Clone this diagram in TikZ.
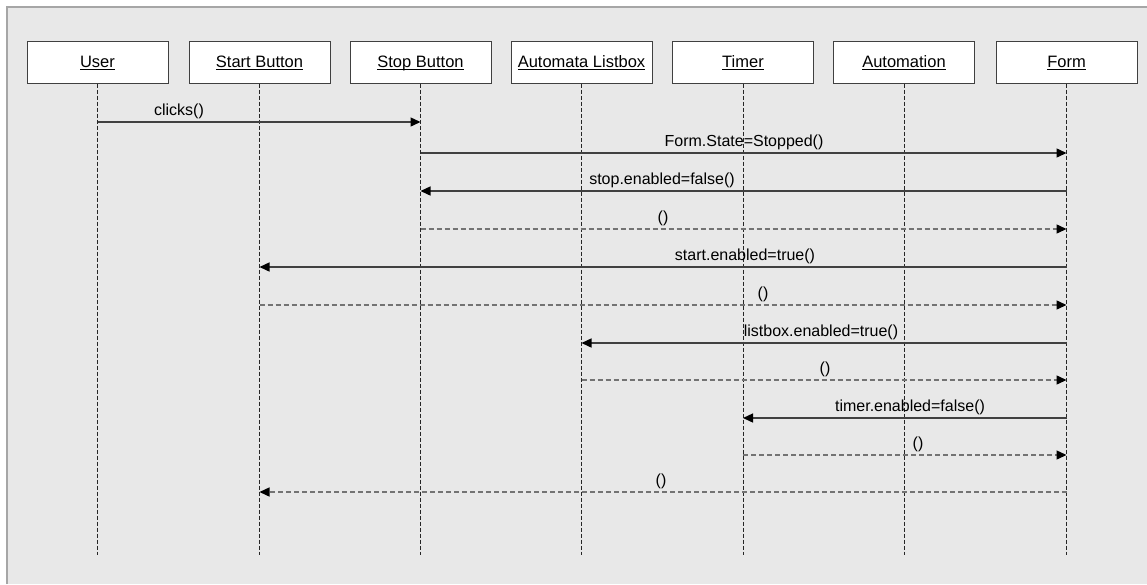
\documentclass[tikz,border=0pt]{standalone}
\usepackage{fontspec}
\setmainfont{Liberation Sans}
\usetikzlibrary{arrows.meta}

\newcommand{\objname}[1]{\underline{\smash{#1}}}

\begin{document}
\begin{tikzpicture}[x=1pt,y=-1pt,>={Triangle[length=10pt,width=9pt,color=black]},
  objbox/.style={draw=black!75,fill=white,line width=1pt,minimum width=141pt,
    minimum height=42pt,inner sep=0pt,text height=11pt,text depth=0pt,
    font=\fontsize{16.5}{18}\selectfont},
  lifeline/.style={draw=black!85,line width=1pt,dash pattern=on 4pt off 2pt},
  call/.style={->,draw=black!75,line width=1.4pt},
  reply/.style={->,draw=black!55,line width=1.4pt,dash pattern=on 5pt off 3pt},
  msglabel/.style={anchor=base,inner sep=0pt,font=\fontsize{16}{18}\selectfont}]

% Rahmen
\useasboundingbox (0,0) rectangle (1147,584);
\fill[black!9] (7,7) rectangle (1147,584);
\draw[black!35,line width=2pt] (7,584)--(7,7)--(1147,7);

% Objekte
\node[objbox] (user) at (97.5,62) {\objname{User}};
\node[objbox] (start) at (259.5,62) {\objname{Start Button}};
\node[objbox] (stop) at (420.5,62) {\objname{Stop Button}};
\node[objbox] (listbox) at (581.5,62) {\objname{Automata Listbox}};
\node[objbox] (timer) at (743,62) {\objname{Timer}};
\node[objbox] (automation) at (904,62) {\objname{Automation}};
\node[objbox] (form) at (1066.5,62) {\objname{Form}};

% Lebenslinien
\coordinate (ende) at (0,555);
\foreach \n in {user,start,stop,listbox,timer,automation,form}
  \draw[lifeline] (\n.south) -- (\n |- ende);

% Nachrichten
\coordinate (m1) at (0,122);
\coordinate (m2) at (0,153);
\coordinate (m3) at (0,191);
\coordinate (m4) at (0,229);
\coordinate (m5) at (0,267);
\coordinate (m6) at (0,305);
\coordinate (m7) at (0,343);
\coordinate (m8) at (0,380);
\coordinate (m9) at (0,418);
\coordinate (m10) at (0,455);
\coordinate (m11) at (0,492);

\draw[call] (user |- m1) -- (stop |- m1);
\node[msglabel] (t1) at (179,115) {clicks()};

\draw[call] (stop |- m2) -- (form |- m2);
\node[msglabel] (t2) at (744,146) {Form.State=Stopped()};

\draw[call] (form |- m3) -- (stop |- m3);
\node[msglabel] (t3) at (662,184) {stop.enabled=false()};

\draw[reply] (stop |- m4) -- (form |- m4);
\node[msglabel] (t4) at (663,222) {()};

\draw[call] (form |- m5) -- (start |- m5);
\node[msglabel] (t5) at (745,260) {start.enabled=true()};

\draw[reply] (start |- m6) -- (form |- m6);
\node[msglabel] (t6) at (763,298) {()};

\draw[call] (form |- m7) -- (listbox |- m7);
\node[msglabel] (t7) at (821,336) {listbox.enabled=true()};

\draw[reply] (listbox |- m8) -- (form |- m8);
\node[msglabel] (t8) at (825,373) {()};

\draw[call] (form |- m9) -- (timer |- m9);
\node[msglabel] (t9) at (910,411) {timer.enabled=false()};

\draw[reply] (timer |- m10) -- (form |- m10);
\node[msglabel] (t10) at (918,448) {()};

\draw[reply] (form |- m11) -- (start |- m11);
\node[msglabel] (t11) at (661,485) {()};

\end{tikzpicture}
\end{document}
